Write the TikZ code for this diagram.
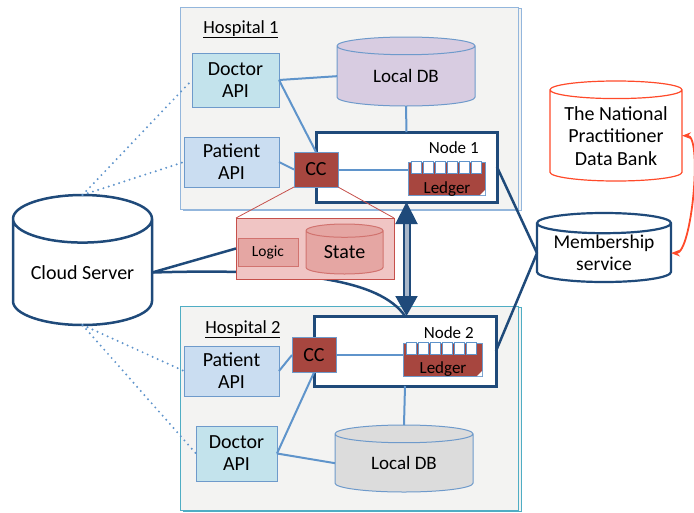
\documentclass[tikz,border=0pt]{standalone}
\usepackage{fontspec}
\setmainfont{Carlito}
\usetikzlibrary{arrows.meta,positioning,shapes.geometric,shadows,calc}

\definecolor{hospfill}{HTML}{F3F3F2}
\definecolor{hospone}{HTML}{93B6DC}
\definecolor{hosptwo}{HTML}{4FADC4}
\definecolor{docfill}{HTML}{C3E3EC}
\definecolor{patfill}{HTML}{CADDF1}
\definecolor{boxline}{HTML}{6E9ACB}
\definecolor{dbone}{HTML}{D8CCE1}
\definecolor{dbtwo}{HTML}{DCDCDC}
\definecolor{ccfill}{HTML}{A7463F}
\definecolor{popfill}{HTML}{F0C5C4}
\definecolor{popline}{HTML}{C6504B}
\definecolor{partfill}{HTML}{E5A6A3}
\definecolor{navy}{HTML}{1F4A7A}
\definecolor{linkblue}{HTML}{5F94CB}
\definecolor{npdbred}{HTML}{FF4A2A}
\definecolor{shaftfill}{HTML}{A9B8CB}

\tikzset{every node/.style={outer sep=0pt}, % connectors touch the borders
        hospital/.style={ % the two hospital frames
            draw=#1, line width=1pt, fill=hospfill,
            copy shadow={shadow xshift=3pt, shadow yshift=-1pt, draw=#1, fill=hospfill}},
        title/.style={font=\fontsize{18.5}{20}\selectfont, anchor=base west},
        api/.style={draw=boxline, line width=1pt, fill=#1, align=center,
            inner sep=0pt, font=\fontsize{20}{22}\selectfont},
        db/.style={ % databases as cylinders
            cylinder, shape border rotate=90, anchor=shape center,
            draw=#1, line width=1pt, align=center, inner sep=0pt},
        peer/.style={draw=navy, line width=3pt, fill=white},
        peername/.style={font=\fontsize{17}{18}\selectfont, anchor=base east},
        cc/.style={draw=boxline, line width=1pt, fill=ccfill,
            minimum width=44pt, minimum height=35pt, font=\fontsize{20}{22}\selectfont},
        ledger/.style={draw=boxline, line width=0.8pt, fill=ccfill,
            minimum width=77pt, minimum height=33pt},
        ledgername/.style={font=\fontsize{17}{18}\selectfont, anchor=base},
        cell/.style={draw=linkblue, line width=0.9pt, fill=white},
        link/.style={draw=linkblue, line width=2pt},
        wire/.style={draw=navy, line width=2.5pt},
        dots/.style={draw=linkblue, line width=2.2pt, line cap=round, dash pattern=on 0pt off 5.5pt},
        popup/.style={draw=popline, line width=0.8pt, fill=popfill},
        part/.style={draw=popline!80, line width=0.8pt, fill=partfill}
        }

\begin{document}
\begin{tikzpicture}[x=1pt,y=-1pt]
    \useasboundingbox (0,0) rectangle (694,512);

    % hospitals
    \node[hospital=hospone, minimum width=338pt, minimum height=202pt] (hosp1) at (349,108) {};
    \node[hospital=hosptwo, minimum width=338pt, minimum height=204pt] (hosp2) at (349,408) {};
    \node[title] (title1) at (200,33) {\underline{Hospital 1}};
    \node[title] (title2) at (202,333) {\underline{Hospital 2}};

    % outside the hospitals
    \node[db=navy, line width=2.5pt, fill=white, aspect=0.46, minimum width=139pt, minimum height=130pt,
        font=\fontsize{20}{22}\selectfont] (cloud) at (82.5,260) {Cloud Server};
    \node[db=navy, line width=2.2pt, fill=white, aspect=0.2, minimum width=134pt, minimum height=69pt,
        font=\fontsize{19.5}{22}\selectfont] (memb) at (604,247.5) {Membership\\service};
    \node[db=npdbred, line width=1.2pt, fill=white, aspect=0.17, minimum width=132pt, minimum height=100pt,
        font=\fontsize{20}{22.5}\selectfont] (npdb) at (616,131) {The National\\Practitioner\\Data Bank};

    % hospital 1
    \node[api=docfill, minimum width=87pt, minimum height=54pt] (doc1) at (235.5,80) {Doctor\\API};
    \node[api=patfill, minimum width=95pt, minimum height=50pt] (pat1) at (231.5,162) {Patient\\API};
    \node[db=boxline, fill=dbone, aspect=0.27, minimum width=138pt, minimum height=69pt,
        font=\fontsize{19}{21}\selectfont] (db1) at (406,71.5) {Local DB};
    \node[peer, minimum width=181pt, minimum height=70pt] (node1) at (406.5,167) {};
    \node[peername] (name1) at (482,153) {Node 1};
    \node[cc] (cc1) at (316,169.5) {CC};
    \node[ledger] (led1) at (446.5,178.5) {};
    \foreach \i in {0,...,5}
        \draw[cell] ($(led1.north west)+(3+12*\i,-1)$) rectangle +(10,12);
    \fill[white] (led1.south east) -- +(-5,0) -- +(0,-5) -- cycle;
    \node[ledgername] (ledname1) at (447,193) {Ledger};

    % hospital 2
    \node[api=patfill, minimum width=95pt, minimum height=50pt] (pat2) at (231.5,371) {Patient\\API};
    \node[api=docfill, minimum width=81pt, minimum height=55pt] (doc2) at (236.5,453.5) {Doctor\\API};
    \node[db=boxline, fill=dbtwo, aspect=0.27, minimum width=138pt, minimum height=67pt,
        font=\fontsize{19}{21}\selectfont] (db2) at (404,458.5) {Local DB};
    \node[peer, minimum width=182pt, minimum height=70pt] (node2) at (405,351) {};
    \node[peername] (name2) at (477,338) {Node 2};
    \node[cc] (cc2) at (314,355) {CC};
    \node[ledger, minimum width=79pt] (led2) at (442.5,359.5) {};
    \foreach \i in {0,...,5}
        \draw[cell] ($(led2.north west)+(3+12*\i,-1)$) rectangle +(10,12);
    \fill[white] (led2.south east) -- +(-5,0) -- +(0,-5) -- cycle;
    \node[ledgername] (ledname2) at (443,373) {Ledger};

    % links inside the hospitals
    \draw[link] (doc1.east) -- (db1.west);
    \draw[link] (doc1.east) -- (cc1.north);
    \draw[link] (db1.south) -- (node1.north);
    \draw[link] (pat1.east) -- (cc1.west);
    \draw[link] (cc1.east) -- (cc1.east -| led1.west);
    \draw[link] (pat2.east) -- (cc2.west);
    \draw[link] (doc2.east) -- (cc2.south);
    \draw[link] (doc2.east) -- (db2.west);
    \draw[link] (node2.south) -- (db2.north);
    \draw[link] (cc2.east) -- (cc2.east -| led2.west);

    % cloud server to the apis
    \draw[dots] (cloud.north) -- (doc1.west);
    \draw[dots] (cloud.north) -- (pat1.west);
    \draw[dots] (cloud.south) -- (pat2.west);
    \draw[dots] (cloud.south) -- (doc2.west);

    % membership service
    \draw[wire] (node1.east) -- (memb.west);
    \draw[wire] (node2.east) -- (memb.west);
    \draw[draw=npdbred, line width=1.8pt, {Stealth[length=9pt]}-{Stealth[length=9pt]}]
        (npdb.east) to[out=0, in=0, looseness=0.45] (memb.east);

    % chaincode detail
    \draw[wire] (cloud.east) .. controls (300,268) and (380,280) .. (node2.north);
    \node[popup, minimum width=158pt, minimum height=61pt] (ccpop) at (315,248.5) {};
    \draw[wire] (cloud.east) -- (ccpop.west);
    \node[part, minimum width=60pt, minimum height=28pt, font=\fontsize{15.5}{17}\selectfont] (logic) at (268,252) {Logic};
    \node[db=popline!80, fill=partfill, aspect=0.32, minimum width=77pt, minimum height=50pt,
        font=\fontsize{20}{22}\selectfont] (state) at (344.5,249) {State};
    \draw[popline, line width=0.8pt] (cc1.south west) -- (ccpop.north west);
    \draw[popline, line width=0.8pt] (cc1.south east) -- (ccpop.north east);

    % between the peers
    \draw[draw=navy, double=shaftfill, double distance=4pt, line width=2pt,
        {Triangle[length=22pt,width=22pt]}-{Triangle[length=20pt,width=22pt]}]
        (node1.south) -- (node1.south |- node2.north);
\end{tikzpicture}
\end{document}
